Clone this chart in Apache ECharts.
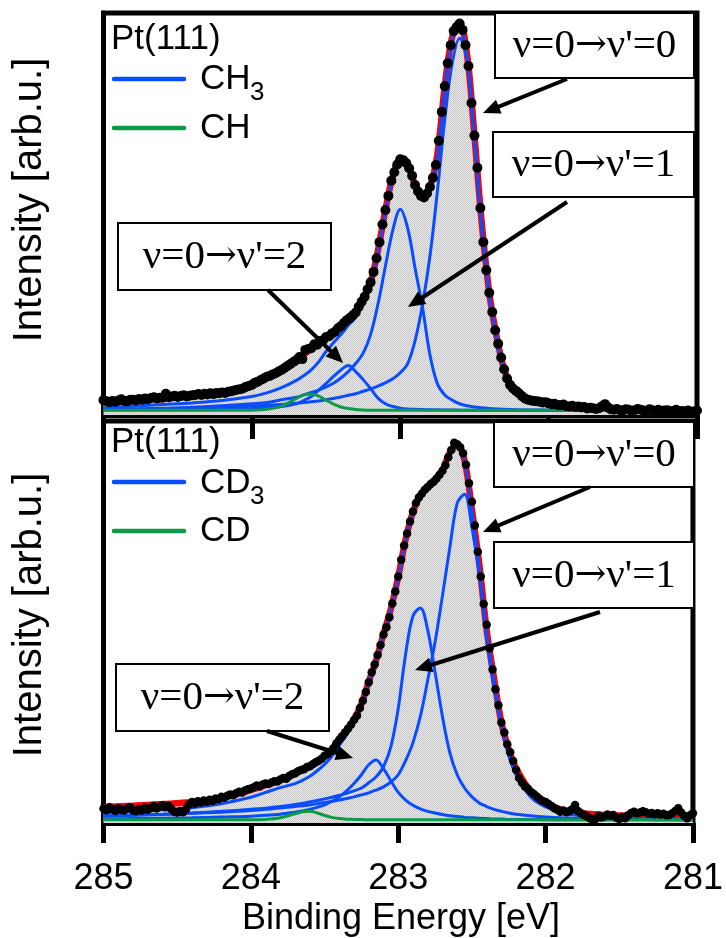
<!DOCTYPE html>
<html><head><meta charset="utf-8">
<script src="https://cdn.jsdelivr.net/npm/echarts@6/dist/echarts.min.js"></script>
<style>html,body{margin:0;padding:0;background:#fff}#c{width:726px;height:938px}</style>
</head><body><div id="c"></div>
<script>
// ---------- data ----------
const xTicks = [285, 284, 283, 282, 281];

// measurement energies (eV) of the data dots
const energy = [
285,284.98,284.96,284.94,284.92,284.9,284.88,284.86,284.84,284.82,
284.8,284.78,284.76,284.74,284.72,284.7,284.68,284.66,284.64,284.62,
284.6,284.58,284.56,284.54,284.52,284.5,284.48,284.46,284.44,284.42,
284.4,284.38,284.36,284.34,284.32,284.3,284.28,284.26,284.24,284.22,
284.2,284.18,284.16,284.14,284.12,284.1,284.08,284.06,284.04,284.02,
284,283.98,283.96,283.94,283.92,283.9,283.88,283.86,283.84,283.82,
283.8,283.78,283.76,283.74,283.72,283.7,283.68,283.66,283.64,283.62,
283.6,283.58,283.56,283.54,283.52,283.5,283.48,283.46,283.44,283.42,
283.4,283.38,283.36,283.34,283.32,283.3,283.28,283.26,283.24,283.22,
283.2,283.18,283.16,283.14,283.12,283.1,283.08,283.06,283.04,283.02,
283,282.98,282.96,282.94,282.92,282.9,282.88,282.86,282.84,282.82,
282.8,282.78,282.76,282.74,282.72,282.7,282.68,282.66,282.64,282.62,
282.6,282.58,282.56,282.54,282.52,282.5,282.48,282.46,282.44,282.42,
282.4,282.38,282.36,282.34,282.32,282.3,282.28,282.26,282.24,282.22,
282.2,282.18,282.16,282.14,282.12,282.1,282.08,282.06,282.04,282.02,
282,281.98,281.96,281.94,281.92,281.9,281.88,281.86,281.84,281.82,
281.8,281.78,281.76,281.74,281.72,281.7,281.68,281.66,281.64,281.62,
281.6,281.58,281.56,281.54,281.52,281.5,281.48,281.46,281.44,281.42,
281.4,281.38,281.36,281.34,281.32,281.3,281.28,281.26,281.24,281.22,
281.2,281.18,281.16,281.14,281.12,281.1,281.08,281.06,281.04,281.02,
281];

// CH3 on Pt(111): data dots
const dotsCH3 = [
3.7,3.4,3.2,3.5,3.3,3.6,3.9,3.5,3.4,3.8,
3.8,3.6,4.0,3.8,4.1,3.9,4.2,4.4,4.1,4.3,
4.3,5.3,4.4,4.6,4.8,4.5,4.7,4.9,4.6,4.8,
4.9,5.0,5.2,5.0,5.3,5.1,5.4,5.2,5.5,5.4,
5.6,5.5,5.8,5.9,6.1,6.3,6.4,6.6,7.0,7.2,
7.5,8.0,8.3,8.7,9.1,9.5,9.7,10.1,10.4,10.8,
11.2,11.7,12.2,12.7,13.2,13.7,14.4,13.9,16.2,16.4,
16.6,17.6,17.5,18.4,18.6,19.4,19.6,20.3,20.7,21.6,
22.1,22.9,23.6,24.1,24.8,25.5,26.9,28.2,29.4,31.3,
33.0,35.6,39.0,43.0,47.4,51.0,54.5,58.3,60.4,62.3,
63.6,63.4,62.7,61.4,59.5,57.2,55.6,54.5,54.1,55.1,
56.7,59.0,62.2,68.2,75.4,81.8,87.5,92.0,95.5,96.5,
97.4,95.8,92.0,86.8,77.6,69.5,61.5,51.5,43.0,36.0,
30.4,25.6,21.1,17.7,14.3,11.4,9.1,7.5,6.6,6.0,
5.4,4.7,4.1,3.8,3.6,3.5,3.4,3.3,3.1,3.2,
2.9,2.7,2.8,2.5,2.4,2.6,2.2,2.1,2.3,2.0,
2.1,1.9,2.0,1.6,1.8,1.7,1.5,1.7,2.2,2.7,
1.9,1.4,1.3,1.5,1.2,1.1,1.4,1.3,1.0,1.2,
1.5,1.3,1.1,1.0,1.4,1.2,1.0,1.3,0.9,1.1,
1.2,0.9,1.0,1.3,0.8,1.0,0.9,1.1,0.8,0.9,
1.1];

// CD3 on Pt(111): data dots
const dotsCD3 = [
3.6,3.2,3.9,3.4,3.0,3.7,3.3,3.1,3.6,3.9,
3.2,2.9,3.5,3.1,3.8,3.3,3.7,4.2,3.6,4.0,
4.4,3.9,4.3,3.5,2.8,2.6,3.0,2.7,3.4,4.6,
5.2,4.8,5.4,5.1,5.6,5.3,5.8,5.5,6.1,5.9,
6.5,6.3,6.8,7.1,6.9,7.4,7.8,7.6,8.1,8.4,
8.6,8.9,9.3,9.1,9.6,9.8,9.7,10.1,10.4,10.3,
10.8,11.2,11.0,11.7,12.1,12.4,12.9,13.2,13.4,13.9,
14.1,14.6,15.1,15.5,16.0,16.7,17.1,17.8,18.6,19.8,
20.7,21.6,22.6,23.5,24.5,25.6,26.7,28.6,30.4,32.6,
35.0,37.5,39.4,41.8,44.3,46.9,48.7,51.2,54.6,57.6,
61.3,65.5,69.0,72.0,75.0,77.5,79.6,81.0,81.9,82.9,
83.6,84.3,84.9,85.7,86.6,87.6,89.0,91.0,92.8,94.6,
94.2,93.5,92.0,89.1,84.5,79.9,74.0,67.5,61.3,54.5,
49.3,43.5,38.2,33.3,29.3,25.0,22.5,19.6,17.6,15.4,
13.2,11.2,10.0,9.1,8.5,7.8,7.2,6.6,6.0,5.5,
5.2,4.7,4.2,3.7,3.3,2.8,3.1,2.7,2.9,3.4,
4.5,3.0,2.4,2.0,1.6,1.2,0.7,1.0,1.8,1.4,
1.6,2.1,1.8,2.0,1.3,1.0,1.5,1.2,1.9,2.5,
2.8,2.4,2.6,2.9,2.7,2.3,2.5,2.2,2.4,2.1,
2.3,1.9,2.0,2.4,3.0,3.7,2.6,1.8,1.2,1.9,
2.4];

// energies (eV) at which the fitted curves were read
const fitEnergy = [
285,284.8,284.6,284.4,284.2,284,
283.9,283.8,283.7,283.65,283.6,283.55,283.5,283.45,
283.4,283.35,283.3,283.25,283.2,283.15,283.1,283.05,
283,282.95,282.9,282.85,282.8,282.75,282.7,282.65,
282.6,282.55,282.5,282.45,282.4,282.35,282.3,282.25,
282.2,282.1,282,281.9,281.8,281.6,281.4,281.2,281];

// top panel (CH3) fitted curves
const chTotal = [
3.6,3.9,4.4,4.9,5.6,7.4,
9.4,11.2,13.8,15.0,16.6,18.0,19.2,20.4,
21.9,23.8,25.5,28.6,33.0,41.0,51.0,59.5,
63.5,62.2,57.2,54.2,56.7,64.8,81.8,94.0,
97.4,89.8,69.5,47.5,30.4,19.4,11.4,6.9,
5.2,3.6,2.8,2.3,1.9,1.6,1.3,1.1,1.0];
const chSum = [
1.8,2.2,2.6,3.0,3.6,4.6,
5.5,6.8,8.6,9.8,11.2,13.2,15.8,18.0,
20.0,22.3,24.3,27.8,32.4,40.5,50.4,59.0,
63.0,61.8,56.8,53.8,56.3,64.4,81.4,93.6,
96.9,89.3,69.0,47.0,30.0,19.0,11.0,6.5,
4.7,3.1,2.3,1.9,1.6,1.3,1.2,1.1,1.0];
const chV0 = [
1.3,1.4,1.5,1.7,1.9,2.2,
2.4,2.6,2.9,3.1,3.3,3.5,3.8,4.1,
4.5,4.9,5.3,5.9,6.5,7.2,8.0,9.0,
10.5,12.8,18.5,27.5,39.5,55.5,73.5,87.5,
93.7,88.5,68.5,46.5,29.8,18.6,10.8,6.3,
4.5,3.0,2.2,1.8,1.6,1.4,1.3,1.2,1.1];
const chV1 = [
1.4,1.5,1.7,1.9,2.3,2.8,
3.1,3.8,4.4,5.0,5.6,6.2,7.0,7.9,
9.2,10.8,12.8,15.4,20.0,27.6,37.0,46.0,
51.2,46.5,36.5,26.8,15.0,7.8,5.0,3.7,
2.8,2.3,2.0,1.8,1.6,1.5,1.4,1.35,
1.3,1.25,1.2,1.2,1.2,1.1,1.1,1.1,1.1];
const chV2 = [
1.3,1.3,1.3,1.3,1.4,1.6,
1.8,2.1,2.8,3.6,4.6,6.2,7.8,9.6,
11.2,12.3,10.8,8.8,6.6,4.2,2.8,2.1,
1.7,1.5,1.4,1.35,1.3,1.3,1.25,1.25,
1.2,1.2,1.2,1.2,1.2,1.2,1.2,1.2,
1.2,1.2,1.2,1.2,1.2,1.2,1.2,1.2,1.2];
const chCH = [
1.2,1.2,1.2,1.2,1.2,1.2,
1.4,2.2,4.1,5.0,5.2,4.7,3.7,2.7,
2.0,1.6,1.35,1.25,1.2,1.2,1.2,1.2,
1.2,1.2,1.2,1.2,1.2,1.2,1.2,1.2,
1.2,1.2,1.2,1.2,1.2,1.2,1.2,1.2,
1.2,1.2,1.2,1.2,1.2,1.2,1.2,1.2,1.2];

// bottom panel (CD3) fitted curves
const cdTotal = [
4.0,4.3,4.7,5.2,6.2,8.2,
9.4,10.7,12.3,13.3,14.3,15.4,16.6,18.2,
21.0,23.1,25.8,29.6,35.2,40.5,47.0,53.3,
61.3,70.5,77.4,81.5,83.5,85.3,87.8,92.2,
94.3,90.2,78.0,64.4,48.0,36.0,25.0,18.3,
13.6,7.8,5.0,3.4,2.7,2.0,1.8,1.6,1.5];
const cdSum = [
2.6,2.9,3.3,3.8,4.8,6.4,
7.6,8.8,9.8,10.6,11.6,13.0,14.6,16.6,
19.3,22.0,24.9,28.8,34.6,40.0,46.6,53.0,
61.0,70.2,77.2,81.3,83.3,85.1,87.6,92.0,
94.0,89.9,77.6,63.8,47.4,35.4,24.4,17.7,
13.0,7.1,4.3,2.8,2.0,1.4,1.1,1.0,0.9];
const cdV0 = [
1.7,1.9,2.1,2.4,2.7,3.1,
3.4,3.7,4.1,4.3,4.5,4.8,5.1,5.4,
5.7,6.1,6.5,7.0,7.5,8.2,9.0,10.2,
12.0,15.5,20.0,26.5,35.5,45.0,56.5,68.5,
79.5,81.8,73.5,62.0,46.0,33.8,24.5,16.8,
12.0,6.4,4.0,2.8,2.1,1.4,1.1,0.9,0.8];
const cdV1 = [
1.8,2.0,2.2,2.5,2.9,3.4,
3.7,4.1,4.6,4.9,5.2,5.6,6.0,6.4,
6.9,7.4,8.0,8.7,10.0,11.5,14.0,19.0,
28.5,42.0,51.5,53.5,48.0,37.5,26.5,17.5,
12.0,8.7,6.5,5.0,4.1,3.4,2.9,2.5,
2.2,1.8,1.5,1.3,1.2,1.0,0.9,0.8,0.8];
const cdV2 = [
1.0,1.1,1.2,1.3,1.5,1.7,
1.9,2.2,2.7,3.0,3.4,3.9,4.5,5.4,
6.5,8.0,9.8,12.0,14.5,15.7,13.5,10.5,
7.6,5.7,4.4,3.5,2.9,2.5,2.1,1.8,
1.6,1.4,1.3,1.2,1.1,1.0,1.0,0.9,
0.9,0.9,0.8,0.8,0.8,0.8,0.8,0.8,0.8];
const cdCD = [
0.8,0.8,0.8,0.8,0.8,0.8,
0.9,1.3,2.3,2.8,2.9,2.5,1.9,1.4,
1.1,0.95,0.9,0.85,0.8,0.8,0.8,0.8,
0.8,0.8,0.8,0.8,0.8,0.8,0.8,0.8,
0.8,0.8,0.8,0.8,0.8,0.8,0.8,0.8,
0.8,0.8,0.8,0.8,0.8,0.8,0.8,0.8,0.8];

// ---------- styling ----------
const SANS = '"Liberation Sans", Arial, sans-serif';
const SERIF = '"Liberation Serif", "Times New Roman", serif';
const BLUE = '#0a4cff', GREEN = '#0a9a48', RED = '#ff0000';

// stippled grey fill like the original
const pat = document.createElement('canvas');
pat.width = 2; pat.height = 2;
(function(){const g = pat.getContext('2d');
  g.fillStyle = '#e8e8e8'; g.fillRect(0,0,2,2);
  g.fillStyle = '#c8c8c8'; g.fillRect(0,0,1,1); g.fillRect(1,1,1,1);})();

const pairs = (xs, ys) => xs.map((x, i) => [x, ys[i]]);

function panelSeries(gi, total, sum, v0, v1, v2, minor, dots, dotSize) {
  const base = {type:'line', xAxisIndex:gi, yAxisIndex:gi, showSymbol:false, symbol:'none',
    smooth:0.35, silent:true, animation:false};
  return [
    Object.assign({}, base, {data:pairs(fitEnergy,total), z:1,
      lineStyle:{color:RED, width:6.5}, areaStyle:{color:{image:pat, repeat:'repeat'}, opacity:1}}),
    Object.assign({}, base, {data:pairs(fitEnergy,v0), z:2, lineStyle:{color:BLUE, width:3}}),
    Object.assign({}, base, {data:pairs(fitEnergy,v1), z:2, lineStyle:{color:BLUE, width:3}}),
    Object.assign({}, base, {data:pairs(fitEnergy,v2), z:2, lineStyle:{color:BLUE, width:3}}),
    Object.assign({}, base, {data:pairs(fitEnergy,sum), z:2, lineStyle:{color:BLUE, width:3}}),
    Object.assign({}, base, {data:pairs(fitEnergy,minor), z:3, lineStyle:{color:GREEN, width:3}}),
    {type:'scatter', xAxisIndex:gi, yAxisIndex:gi, data:pairs(energy,dots), symbolSize:dotSize,
      itemStyle:{color:'#000', opacity:1, borderWidth:0}, z:4, silent:true, animation:false}
  ];
}

function xAxisCfg(gi, showLabels, tickLen) {
  return {gridIndex:gi, type:'value', min:281, max:285, interval:1, inverse:true,
    axisLine:{show:true, lineStyle:{color:'#000', width:5}},
    axisTick:{show:true, inside:false, length:tickLen, lineStyle:{color:'#000', width:5}},
    axisLabel:{show:showLabels, fontSize:36, color:'#000', fontFamily:SANS, margin:38,
      formatter: v => String(xTicks.find(t => Math.abs(t - v) < 1e-6) ?? v)},
    splitLine:{show:false}};
}
function yAxisCfg(gi) {
  return {gridIndex:gi, type:'value', min:0, max:100,
    axisLine:{show:true, lineStyle:{color:'#000', width:5}},
    axisTick:{show:false}, axisLabel:{show:false}, splitLine:{show:false}};
}

// ---------- annotations ----------
const G = [];
function txt(x, y, s, size, fam, align, extra) {
  G.push(Object.assign({type:'text', x:x, y:y, z:100, silent:true,
    style:{text:s, fill:'#000', fontSize:size, fontFamily:fam, textAlign:align||'left', align:align||'left',
      textVerticalAlign:'middle', verticalAlign:'middle'}}, extra||{}));
}
function box(x, y, w, h, v) {
  G.push({type:'rect', z:100, silent:true, shape:{x:x, y:y, width:w, height:h},
    style:{fill:'#fff', stroke:'#000', lineWidth:2}});
  G.push({type:'text', x:x + w/2, y:y + h/2 + 1, z:101, silent:true,
    style:{text:"{t|ν=0}{r|→}{t|ν'=" + v + "}", fill:'#000', align:'center', textAlign:'center',
      verticalAlign:'middle', textVerticalAlign:'middle',
      rich:{t:{fontSize:41, fontFamily:SERIF, fill:'#000'},
            r:{fontSize:38, fontFamily:'"DejaVu Serif", serif', fill:'#000'}}}});
}
function arrow(x1, y1, x2, y2) {
  const a = Math.atan2(y2 - y1, x2 - x1), L = 17, W = 7.5;
  const c = Math.cos(a), s = Math.sin(a);
  const bx = x2 - L*c, by = y2 - L*s;
  G.push({type:'line', z:101, silent:true, shape:{x1:x1, y1:y1, x2:bx+2*c, y2:by+2*s},
    style:{stroke:'#000', lineWidth:4}});
  G.push({type:'polygon', z:101, silent:true,
    shape:{points:[[x2,y2],[bx + W*s, by - W*c],[bx - W*s, by + W*c]]}, style:{fill:'#000'}});
}
function legendLine(y, color) {
  G.push({type:'line', z:100, silent:true, shape:{x1:114, y1:y, x2:184, y2:y},
    style:{stroke:color, lineWidth:4.5, lineCap:'round'}});
}

// top panel
txt(111, 39, 'Pt(111)', 35, SANS);
legendLine(79, BLUE);  txt(200, 79, 'CH', 35, SANS);  txt(250, 93, '3', 26, SANS);
legendLine(128, GREEN); txt(200, 128, 'CH', 35, SANS);
box(495, 13, 199, 65, '0');
box(493, 132, 201, 65, '1');
box(118, 223, 213, 67, '2');
arrow(567, 79, 483, 113);
arrow(567, 202, 408, 307);
arrow(268, 290, 343, 363);

// bottom panel
txt(111, 442, 'Pt(111)', 35, SANS);
legendLine(482, BLUE);  txt(200, 483, 'CD', 35, SANS);  txt(250, 497, '3', 26, SANS);
legendLine(531, GREEN); txt(200, 531, 'CD', 35, SANS);
box(494, 422, 200, 65, '0');
box(494, 542, 200, 66, '1');
box(116, 664, 213, 67, '2');
arrow(590, 487, 483, 532);
arrow(600, 612, 415, 670);
arrow(267, 731, 353, 758);

// axis titles
txt(30, 200, 'Intensity [arb.u.]', 40, SANS, 'center', {rotation: Math.PI/2});
txt(30, 615, 'Intensity [arb.u.]', 40, SANS, 'center', {rotation: Math.PI/2});
txt(401, 919, 'Binding Energy [eV]', 36, SANS, 'center');

const chart = echarts.init(document.getElementById('c'), null, {renderer:'canvas', width:726, height:938});
chart.setOption({
  animation:false,
  backgroundColor:'#fff',
  grid:[
    {left:103.5, top:13, width:593.5, height:402, show:true, borderColor:'#000', borderWidth:5, backgroundColor:'rgba(0,0,0,0)'},
    {left:103.5, top:421, width:593.5, height:402, show:true, borderColor:'#000', borderWidth:5, backgroundColor:'rgba(0,0,0,0)'}
  ],
  xAxis:[xAxisCfg(0, false, 24), xAxisCfg(1, true, 20)],
  yAxis:[yAxisCfg(0), yAxisCfg(1)],
  series: [].concat(
    panelSeries(0, chTotal, chSum, chV0, chV1, chV2, chCH, dotsCH3, 10),
    panelSeries(1, cdTotal, cdSum, cdV0, cdV1, cdV2, cdCD, dotsCD3, 8.5)
  ),
  graphic: G
});
</script>
</body></html>
